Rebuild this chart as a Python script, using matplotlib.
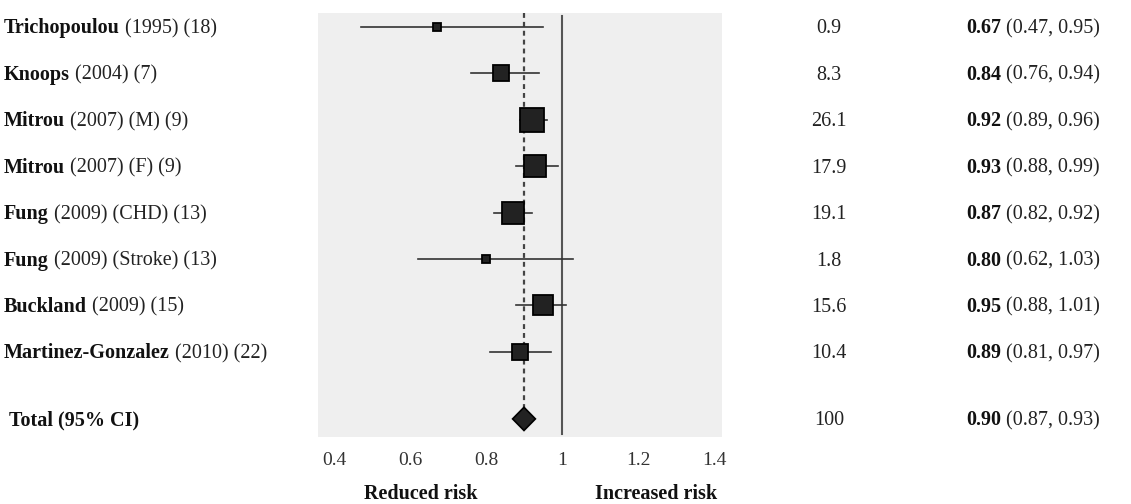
import matplotlib
matplotlib.use("Agg")
import matplotlib.pyplot as plt
import numpy as np
from matplotlib.transforms import blended_transform_factory, ScaledTranslation
from matplotlib.patches import Polygon

# ---------------- data ----------------
authors = ["Trichopoulou", "Knoops", "Mitrou", "Mitrou", "Fung", "Fung",
           "Buckland", "Martinez-Gonzalez"]
details = ["(1995) (18)", "(2004) (7)", "(2007) (M) (9)", "(2007) (F) (9)",
           "(2009) (CHD) (13)", "(2009) (Stroke) (13)", "(2009) (15)", "(2010) (22)"]
weights = [0.9, 8.3, 26.1, 17.9, 19.1, 1.8, 15.6, 10.4]
rr = [0.67, 0.84, 0.92, 0.93, 0.87, 0.80, 0.95, 0.89]
ci_low = [0.47, 0.76, 0.89, 0.88, 0.82, 0.62, 0.88, 0.81]
ci_high = [0.95, 0.94, 0.96, 0.99, 0.92, 1.03, 1.01, 0.97]
total_label = "Total (95% CI)"
total_weight = 100
total_rr = 0.90
total_low = 0.87
total_high = 0.93
xticks = [0.4, 0.6, 0.8, 1.0, 1.2, 1.4]
xtick_labels = ["0.4", "0.6", "0.8", "1", "1.2", "1.4"]
left_note = "Reduced risk"
right_note = "Increased risk"

# ---------------- figure ----------------
W, H, DPI = 1131, 504, 100
plt.rcParams['font.family'] = ['Liberation Serif', 'DejaVu Serif']
fig = plt.figure(figsize=(W / DPI, H / DPI), dpi=DPI)
fig.patch.set_facecolor('white')

ax = fig.add_axes([318 / W, 1 - 437 / H, 404 / W, 424 / H])
ax.set_facecolor('#efefef')
for s in ax.spines.values():
    s.set_visible(False)

n = len(rr)
ys = np.arange(n, dtype=float)
total_y = (n - 1) + 67 / 46.4
ax.set_ylim(total_y + 0.39, -0.30)
ax.set_xlim(0.358, 1.421)
ax.set_yticks([])
ax.set_xticks(xticks)
ax.set_xticklabels(xtick_labels, fontsize=14, color='#333333')
ax.tick_params(axis='x', length=0, pad=11)

# reference lines
ax.axvline(1.0, ymin=0.008, ymax=0.993, color='#555555', lw=1.5, zorder=1)
ax.plot([total_rr, total_rr], [ax.get_ylim()[1], total_y], color='#444444',
        lw=1.6, ls=(0, (2.2, 1.8)), zorder=1)

# studies
for i in range(n):
    ax.plot([ci_low[i], ci_high[i]], [ys[i], ys[i]], color='#333333', lw=1.2, zorder=2)
    side_px = 3 + 4.3 * np.sqrt(weights[i])
    ax.plot(rr[i], ys[i], marker='s', ms=side_px * 72 / DPI, mfc='#222222',
            mec='#000000', mew=1.3, zorder=3, ls='none')

# total diamond
dh = 0.25
diamond = Polygon([[total_low, total_y], [total_rr, total_y - dh],
                   [total_high, total_y], [total_rr, total_y + dh]],
                  closed=True, fc='#222222', ec='#000000', lw=1.2, zorder=3)
ax.add_patch(diamond)

# ---------------- text columns ----------------
FS = 14.5
row_tr = blended_transform_factory(fig.transFigure, ax.transData) + \
    ScaledTranslation(0, -6.5 / DPI, fig.dpi_scale_trans)


def two_part(x_px, y, bold, rest):
    t = fig.text(x_px / W, y, bold, transform=row_tr, fontsize=FS,
                 fontweight='bold', ha='left', va='baseline', color='#111111')
    if rest:
        fig.add_artist(plt.Annotation(
            rest, xy=(1, y), xycoords=(t, row_tr), xytext=(3.4, 0),
            textcoords='offset points', fontsize=FS, fontweight='normal',
            ha='left', va='baseline', color='#222222'))
    return t


for i in range(n):
    two_part(4, ys[i], authors[i], details[i])
    fig.text(829 / W, ys[i], f"{weights[i]:g}", transform=row_tr, fontsize=FS,
             ha='center', va='baseline', color='#222222')
    two_part(966, ys[i], f"{rr[i]:.2f}", f"({ci_low[i]:.2f}, {ci_high[i]:.2f})")

two_part(9, total_y, total_label, None)
fig.text(829 / W, total_y, f"{total_weight:g}", transform=row_tr, fontsize=FS,
         ha='center', va='baseline', color='#222222')
two_part(966, total_y, f"{total_rr:.2f}", f"({total_low:.2f}, {total_high:.2f})")

# bottom notes
fig.text(420.5 / W, 5 / H, left_note, fontsize=14.5, fontweight='bold',
         ha='center', va='baseline', color='#111111')
fig.text(656 / W, 5 / H, right_note, fontsize=14.5, fontweight='bold',
         ha='center', va='baseline', color='#111111')

fig.savefig('out.png', dpi=DPI, facecolor='white')
